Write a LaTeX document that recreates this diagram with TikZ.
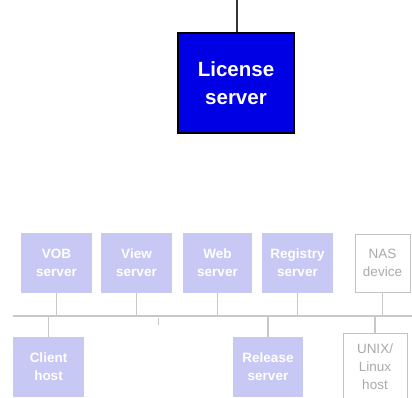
\documentclass[tikz,border=0pt]{standalone}
\usepackage{fontspec}
\setmainfont{Liberation Sans}
\definecolor{licblue}{RGB}{0,0,228}
\definecolor{srvfill}{RGB}{200,200,245}
\definecolor{wirelight}{RGB}{200,200,200}
\definecolor{devline}{RGB}{195,195,195}
\definecolor{devtext}{RGB}{170,170,170}
\begin{document}
\begin{tikzpicture}[x=1pt,y=-1pt,
  licbox/.style={draw=black,line width=1.5pt,fill=licblue,text=white,
    align=center,inner sep=0pt,minimum width=116pt,minimum height=100pt,
    font=\bfseries\fontsize{20.5}{28}\selectfont},
  srvbox/.style={fill=srvfill,draw=none,text=white,align=center,inner sep=0pt,
    minimum width=71pt,minimum height=60pt,
    font=\bfseries\fontsize{13.5}{18}\selectfont},
  devbox/.style={draw=devline,line width=0.9pt,fill=white,text=devtext,align=center,
    inner sep=0pt,font=\fontsize{13.5}{18}\selectfont},
  wire/.style={draw=wirelight,line width=1.3pt},
  bus/.style={draw=wirelight,line width=2.6pt}]
\useasboundingbox (0,0) rectangle (412,398);

% license server and its uplink
\node[licbox] (lic) at (236,83) {License\\server};
\coordinate (up) at (237,0);
\draw[line width=2pt,draw=black!80] (up) -- (lic.north -| up);

% network bus
\coordinate (busL) at (13,316);
\coordinate (busR) at (412,316);
\draw[bus] (busL) -- (busR);

% hosts above the bus
\node[srvbox] (vob) at (56.5,263) {VOB\\server};
\node[srvbox] (view) at (136.5,263) {View\\server};
\node[srvbox,minimum width=69pt] (web) at (217.5,263) {Web\\server};
\node[srvbox] (reg) at (297.5,263) {Registry\\server};
\node[devbox,minimum width=55pt,minimum height=58pt] (nas) at (382.5,263) {NAS\\device};

% hosts below the bus
\node[srvbox] (client) at (48.5,367) {Client\\host};
\node[srvbox,minimum width=70pt] (rel) at (268,367) {Release\\server};
\node[devbox,minimum width=64pt,minimum height=68pt] (unix) at (375,367) {UNIX/\\Linux\\host};

% drops to the bus
\draw[wire] (vob.south) -- (vob.south |- busL);
\draw[wire] (view.south) -- (view.south |- busL);
\draw[wire] (web.south) -- (web.south |- busL);
\draw[wire] (reg.south) -- (reg.south |- busL);
\draw[wire] (nas.south) -- (nas.south |- busL);
\draw[wire] (client.north) -- (client.north |- busL);
\draw[wire] (rel.north) -- (rel.north |- busL);
\draw[wire] (unix.north) -- (unix.north |- busL);

% stub below the bus
\coordinate (stub) at (158,318);
\draw[draw=wirelight,line width=0.8pt] (stub) -- ++(0,7);
\end{tikzpicture}
\end{document}
